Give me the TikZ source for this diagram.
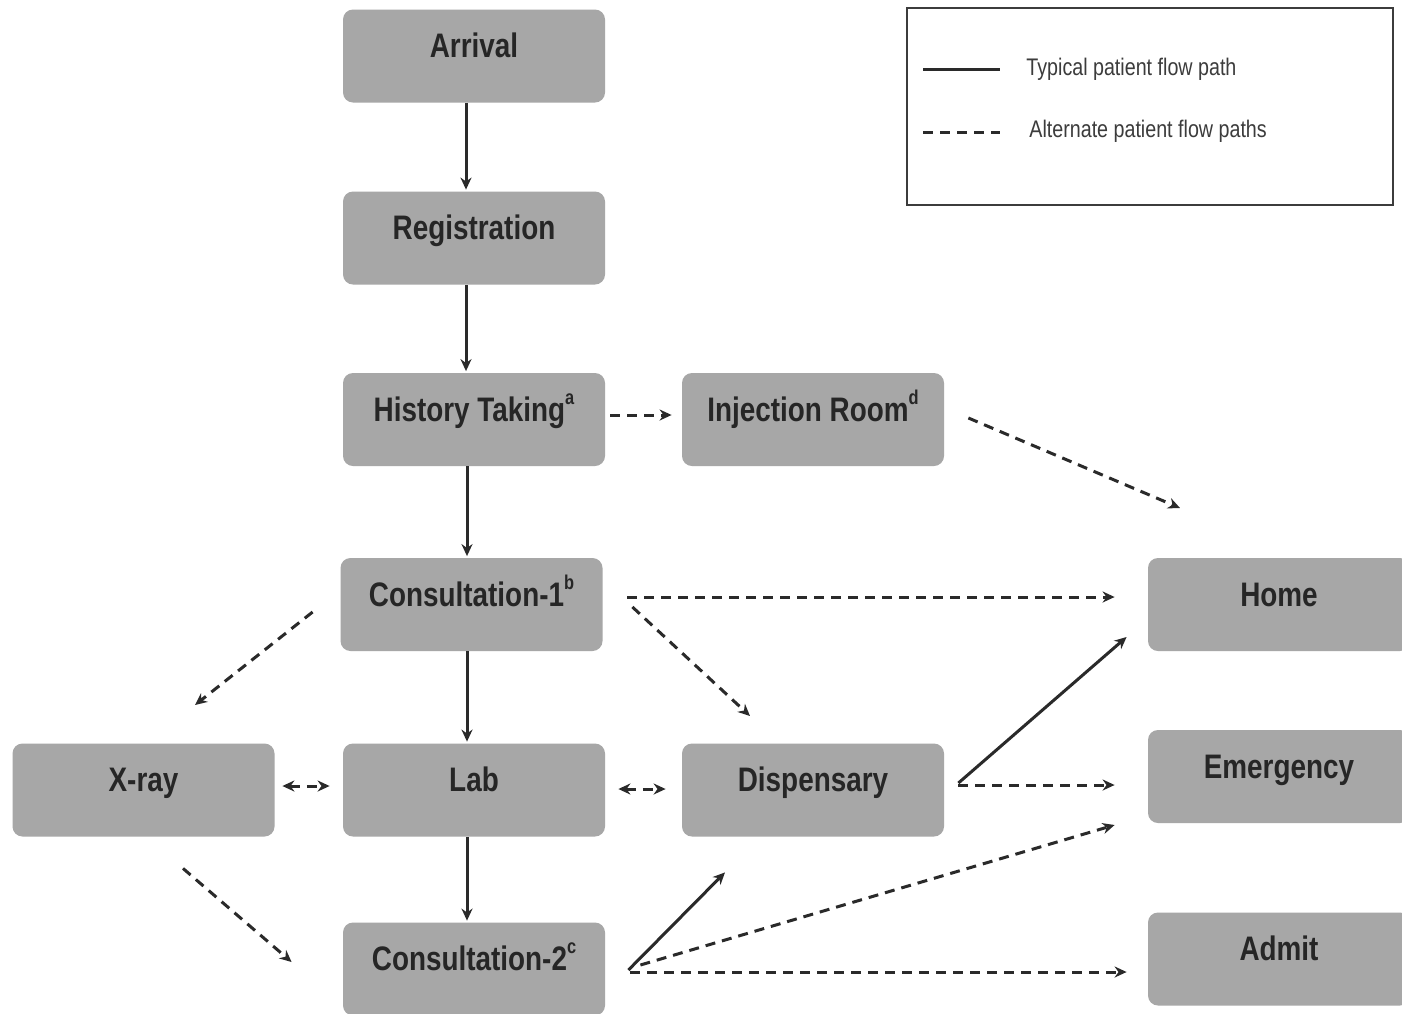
\documentclass[tikz,border=0pt]{standalone}
\usepackage{fontspec}
\setmainfont{Liberation Sans}[FakeStretch=0.82]
\usetikzlibrary{arrows.meta,calc}

\definecolor{boxgray}{HTML}{A7A7A7}
\definecolor{ink}{HTML}{262626}
\definecolor{linec}{HTML}{2A2A2A}
\definecolor{legendink}{HTML}{3C3C3C}

\newcommand{\note}[1]{\raisebox{0.5em}{\fontsize{10}{11}\selectfont\bfseries #1}}

\tikzset{
  stage/.style={fill=boxgray, rounded corners=5pt, minimum width=131pt,
    minimum height=46.5pt, inner xsep=0pt, inner ysep=0pt,
    text height=24pt, text depth=22.5pt,
    font=\fontsize{17}{20}\selectfont\bfseries, text=ink},
  tip/.tip={Stealth[length=6pt,width=5.5pt]},
  flow/.style={draw=linec, line width=1.5pt, -tip},
  alt/.style={flow, dash pattern=on 5pt off 3.5pt},
  twoway/.style={alt, tip-tip},
  legendtext/.style={anchor=west, font=\fontsize{12}{14}\selectfont, text=legendink, inner sep=0pt},
}

\begin{document}
\begin{tikzpicture}[x=0.5pt,y=-0.5pt]
\clip (0,0) rectangle (1402,1013);
\fill[white] (0,0) rectangle (1402,1013);

% stages of the patient visit
\node[stage] (arr)   at (474,56)    {Arrival};
\node[stage] (reg)   at (474,238)   {Registration};
\node[stage] (hist)  at (474,419.5) {History Taking\note{a}};
\node[stage] (inj)   at (813,419.5) {Injection Room\note{d}};
\node[stage] (c1)    at (471.5,604.5) {Consultation-1\note{b}};
\node[stage] (xray)  at (143.5,790) {X-ray};
\node[stage] (lab)   at (474,790)   {Lab};
\node[stage] (disp)  at (813,790)   {Dispensary};
\node[stage] (c2)    at (474,969)   {Consultation-2\note{c}};
\node[stage] (home)  at (1279,604.5) {Home};
\node[stage] (emer)  at (1279,776.5) {Emergency};
\node[stage] (admit) at (1279,959)  {Admit};

% free ends of paths that stop short of a box
\coordinate (injout) at (1180,508);
\coordinate (c1disp) at (750,716);
\coordinate (c1xray) at (195,705);

% typical path down the centre
\draw[flow] ([shift={(-8,0)}]arr.south)  -- ([shift={(-8,-1.5)}]reg.north);
\draw[flow] ([shift={(-8,0)}]reg.south)  -- ([shift={(-8,-1.5)}]hist.north);
\draw[flow] ([shift={(-7,0)}]hist.south) -- ([shift={(-4.5,-1.5)}]c1.north);
\draw[flow] ([shift={(-4.5,0)}]c1.south) -- ([shift={(-7,-1.5)}]lab.north);
\draw[flow] ([shift={(-7,0)}]lab.south)  -- ([shift={(-7,-1.5)}]c2.north);

% alternate paths
\draw[alt] ([shift={(5,-4.5)}]hist.east) -- ([shift={(-10,-4.5)}]inj.west);
\draw[alt] ([shift={(24,-1.5)}]inj.east) -- (injout);
\draw[alt] ([shift={(24.5,-7.5)}]c1.east) -- ([shift={(-33,-7.5)}]home.west);
\draw[alt] ([shift={(29.5,2.5)}]c1.east) -- (c1disp);
\draw[alt] ([shift={(-27.5,7.5)}]c1.west) -- (c1xray);
\draw[twoway] ([shift={(7.5,-4)}]xray.east) -- ([shift={(-13,-4)}]lab.west);
\draw[twoway] ([shift={(13,-1)}]lab.east) -- ([shift={(-16,-1)}]disp.west);
\draw[alt] ([shift={(14,-5)}]disp.east) -- ([shift={(-33,8.5)}]emer.west);
\draw[alt] ([shift={(39.5,31.5)}]xray.south) -- ([shift={(-51,-7)}]c2.west);
\draw[alt] ([shift={(35,-4)}]c2.east) -- ([shift={(-33,48.5)}]emer.west);
\draw[alt] ([shift={(25,3)}]c2.east) -- ([shift={(-21,13)}]admit.west);

% typical exits
\draw[flow] ([shift={(14,-7)}]disp.east) -- ([shift={(-21,32.5)}]home.west);
\draw[flow] ([shift={(23,1)}]c2.east) -- ([shift={(-88,35.5)}]disp.south);

% key
\node[draw=legendink, line width=1.2pt, minimum width=243pt, minimum height=98.5pt,
      inner sep=0pt] (key) at (1150,106.5) {};
\draw[draw=linec, line width=1.5pt] (923,69) -- (1000,69);
\draw[draw=linec, line width=1.5pt, dash pattern=on 5pt off 3.5pt] (923,132) -- (1000,132);
\node[legendtext] (keytyp) at (1026,69)  {Typical patient flow path};
\node[legendtext] (keyalt) at (1029,131) {Alternate patient flow paths};
\end{tikzpicture}
\end{document}
